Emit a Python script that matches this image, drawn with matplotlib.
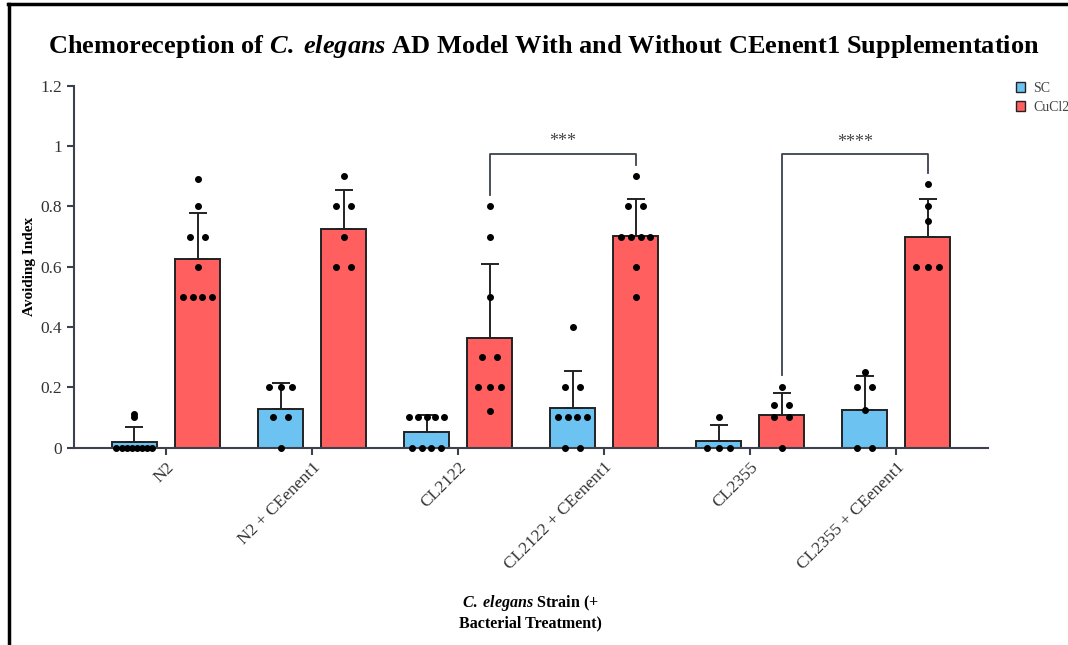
import numpy as np
import matplotlib.pyplot as plt
from matplotlib.patches import Patch
from matplotlib.lines import Line2D

plt.rcParams['font.family'] = 'Liberation Serif'
plt.rcParams['mathtext.fontset'] = 'custom'
plt.rcParams['mathtext.it'] = 'Liberation Serif:italic:bold'
plt.rcParams['mathtext.rm'] = 'Liberation Serif:bold'
plt.rcParams['mathtext.bf'] = 'Liberation Serif:bold'

strains = ['N2', 'N2 + CEenent1', 'CL2122', 'CL2122 + CEenent1', 'CL2355', 'CL2355 + CEenent1']

# mean avoiding index and SD per strain
sc_mean = [0.020, 0.127, 0.051, 0.130, 0.022, 0.125]
sc_sd = [0.048, 0.087, 0.056, 0.125, 0.052, 0.111]
cu_mean = [0.625, 0.726, 0.363, 0.703, 0.108, 0.698]
cu_sd = [0.153, 0.127, 0.246, 0.122, 0.072, 0.126]

# individual trials
sc_points = [
    [0, 0, 0, 0, 0, 0, 0, 0, 0.10, 0.11],
    [0.2, 0.2, 0.2, 0.1, 0.1, 0],
    [0.1, 0.1, 0.1, 0.1, 0.1, 0, 0, 0, 0],
    [0.4, 0.2, 0.2, 0.1, 0.1, 0.1, 0.1, 0, 0],
    [0.1, 0, 0, 0],
    [0.25, 0.2, 0.2, 0.125, 0, 0],
]
cu_points = [
    [0.89, 0.8, 0.7, 0.7, 0.6, 0.5, 0.5, 0.5, 0.5],
    [0.9, 0.8, 0.8, 0.7, 0.6, 0.6],
    [0.8, 0.7, 0.5, 0.3, 0.3, 0.2, 0.2, 0.2, 0.12],
    [0.9, 0.8, 0.8, 0.7, 0.7, 0.7, 0.7, 0.6, 0.5],
    [0.2, 0.14, 0.14, 0.1, 0.1, 0],
    [0.875, 0.8, 0.75, 0.6, 0.6, 0.6],
]

sc_color = '#6CC3F2'
cu_color = '#FF5F5F'
edge = '#222222'
axis_color = '#3C424D'

offset = 0.216
width = 0.31


def spread(vals, center):
    # lay out tied values side by side, like a column scatter
    xs = []
    ys = []
    vals = np.array(vals)
    for v in np.unique(vals):
        n = int((vals == v).sum())
        if n == 1:
            xs.append(center)
        else:
            w = min(15 * (n - 1) ** 0.6, 36) / 146
            xs.extend(center + np.linspace(-w / 2, w / 2, n))
        ys.extend([v] * n)
    return xs, ys


fig = plt.figure(figsize=(10.68, 6.45), dpi=100)
ax = fig.add_axes([0.0693, 0.306, 0.856, 0.561])

x = np.arange(len(strains))
for pos, mean, sd, pts, col in [(x - offset, sc_mean, sc_sd, sc_points, sc_color),
                                 (x + offset, cu_mean, cu_sd, cu_points, cu_color)]:
    ax.bar(pos, mean, width, color=col, edgecolor=edge, linewidth=1.4, zorder=2)
    ax.errorbar(pos, mean, yerr=[np.zeros(len(sd)), sd], fmt='none', ecolor=edge,
                elinewidth=1.4, capsize=6.5, capthick=1.4, zorder=3)
    for p, vals in zip(pos, pts):
        px, py = spread(vals, p)
        ax.scatter(px, py, s=16, color='black', zorder=4, clip_on=False)

# significance brackets: (left strain, right strain, left foot, right foot, top, label)
brackets = [(2, 3, 0.837, 0.938, 0.974, '***'),
            (4, 5, 0.241, 0.912, 0.973, '****')]
for i, j, yl, yr, top, lab in brackets:
    xl, xr = i + offset, j + offset
    ax.plot([xl, xl, xr, xr], [yl, top, top, yr], color=axis_color, lw=1.3, zorder=3)
    ax.text((xl + xr) / 2, top + 0.012, lab, ha='center', va='bottom',
            fontsize=13, color='#444444')

ax.set_xlim(-0.63, 5.63)
ax.set_ylim(0, 1.2)
ax.set_yticks([0, 0.2, 0.4, 0.6, 0.8, 1.0, 1.2])
ax.set_yticklabels(['0', '0.2', '0.4', '0.6', '0.8', '1', '1.2'])
ax.set_xticks(x)
ax.set_xticklabels(strains, rotation=45, ha='right', va='top', rotation_mode='anchor')
ax.tick_params(axis='both', colors=axis_color, labelcolor='#333333', labelsize=12.5,
               width=1.5, length=5)
for s in ['top', 'right']:
    ax.spines[s].set_visible(False)
for s in ['left', 'bottom']:
    ax.spines[s].set_color(axis_color)
    ax.spines[s].set_linewidth(1.5)

ax.set_ylabel('Avoiding Index', fontsize=11, fontweight='bold', labelpad=3)

fig.text(0.509, 0.928, r'Chemoreception of $\mathit{C.\;elegans}$ AD Model With and Without CEenent1 Supplementation',
         ha='center', va='center', fontsize=19, fontweight='bold')
fig.text(0.497, 0.051, '$\\mathit{C.\\;elegans}$ Strain (+\nBacterial Treatment)',
         ha='center', va='center', fontsize=11.5, fontweight='bold', multialignment='center')

handles = [Patch(facecolor=sc_color, edgecolor=edge, linewidth=1.0, label='SC'),
           Patch(facecolor=cu_color, edgecolor=edge, linewidth=1.0, label='CuCl2')]
leg = fig.legend(handles=handles, loc='upper left', bbox_to_anchor=(1010 / 1068, 1 - 76 / 645),
                 frameon=False, fontsize=10, handlelength=0.7, handleheight=0.7,
                 handletextpad=0.6, labelspacing=0.45, borderaxespad=0)
for t in leg.get_texts():
    t.set_color('#444444')

# frame lines along the top and left edge
fig.add_artist(Line2D([8 / 1068, 1], [1 - 4 / 645, 1 - 4 / 645], transform=fig.transFigure,
                      color='black', lw=2.5))
fig.add_artist(Line2D([9 / 1068, 9 / 1068], [0, 1 - 4 / 645], transform=fig.transFigure,
                      color='black', lw=2.5))

fig.savefig('out.png', dpi=100)
